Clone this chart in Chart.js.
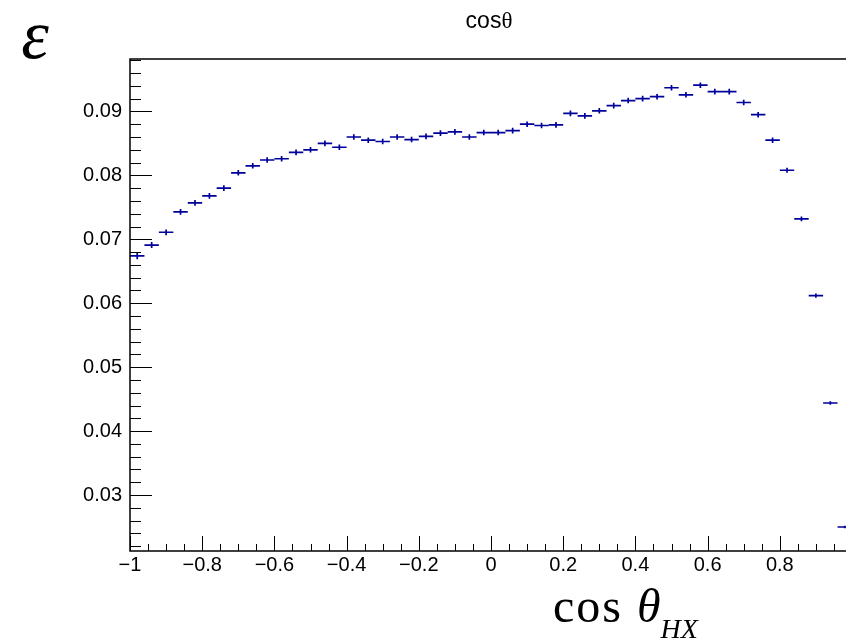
<!DOCTYPE html>
<html>
<head>
<meta charset="utf-8">
<script src="https://cdn.jsdelivr.net/npm/chart.js@4.4.1/dist/chart.umd.min.js"></script>
<style>
  html, body { margin: 0; padding: 0; background: #fff; overflow: hidden; }
  #wrap { width: 860px; height: 640px; }
</style>
</head>
<body>
<div id="wrap"><canvas id="eff-chart" width="860" height="640"></canvas></div>
<script>
// ---- efficiency vs cos(theta_HX), 50 bins of 0.04 ----
const binCenters = [
    -0.98, -0.94, -0.90, -0.86, -0.82, -0.78, -0.74, -0.70, -0.66, -0.62,
    -0.58, -0.54, -0.50, -0.46, -0.42, -0.38, -0.34, -0.30, -0.26, -0.22,
    -0.18, -0.14, -0.10, -0.06, -0.02, 0.02, 0.06, 0.10, 0.14, 0.18,
    0.22, 0.26, 0.30, 0.34, 0.38, 0.42, 0.46, 0.50, 0.54, 0.58,
    0.62, 0.66, 0.70, 0.74, 0.78, 0.82, 0.86, 0.90, 0.94, 0.98
];
const binHalfWidth = 0.02;

const effValues = [
    0.0674, 0.0691, 0.0711, 0.0743, 0.0757, 0.0768, 0.0780, 0.0804, 0.0815, 0.0824,
    0.0826, 0.0836, 0.0840, 0.0850, 0.0844, 0.0860, 0.0855, 0.0853, 0.0860, 0.0856,
    0.0861, 0.0866, 0.0868, 0.0860, 0.0867, 0.0867, 0.0870, 0.0880, 0.0878, 0.0879,
    0.0897, 0.0893, 0.0901, 0.0909, 0.0917, 0.0920, 0.0923, 0.0937, 0.0926, 0.0941,
    0.0931, 0.0931, 0.0914, 0.0895, 0.0855, 0.0808, 0.0732, 0.0612, 0.0444, 0.0250
];

const effErrors = [
    0.00052, 0.00046, 0.00045, 0.00045, 0.00044, 0.00044, 0.00044, 0.00044, 0.00044, 0.00044,
    0.00044, 0.00044, 0.00044, 0.00044, 0.00044, 0.00044, 0.00044, 0.00044, 0.00044, 0.00044,
    0.00044, 0.00044, 0.00044, 0.00044, 0.00044, 0.00044, 0.00044, 0.00044, 0.00044, 0.00044,
    0.00044, 0.00044, 0.00044, 0.00044, 0.00044, 0.00044, 0.00044, 0.00044, 0.00044, 0.00044,
    0.00044, 0.00044, 0.00044, 0.00043, 0.00042, 0.00040, 0.00038, 0.00034, 0.00028, 0.00020
];

// major tick labels
const xTickValues = [-1, -0.8, -0.6, -0.4, -0.2, 0, 0.2, 0.4, 0.6, 0.8];
const yTickValues = [0.03, 0.04, 0.05, 0.06, 0.07, 0.08, 0.09];

const xRange = [-1, 1];
const yRange = [0.02125, 0.0982];

const markerColor = '#00009a';
const labelFont = '"Liberation Sans", Arial, sans-serif';
const mathFont = '"Liberation Serif", "Times New Roman", serif';

// ROOT-like frame: inside ticks, error crosses, titles
const rootStyle = {
    id: 'rootStyle',
    afterDatasetsDraw(chart) {
        const ctx = chart.ctx;
        const xs = chart.scales.x;
        const ys = chart.scales.y;
        const area = chart.chartArea;

        ctx.save();

        // error crosses for each bin
        ctx.strokeStyle = markerColor;
        ctx.lineWidth = 1.7;
        binCenters.forEach((c, i) => {
            const y = ys.getPixelForValue(effValues[i]);
            const xc = xs.getPixelForValue(c);
            ctx.beginPath();
            ctx.moveTo(xs.getPixelForValue(c - binHalfWidth), y);
            ctx.lineTo(xs.getPixelForValue(c + binHalfWidth), y);
            ctx.moveTo(xc, ys.getPixelForValue(effValues[i] - effErrors[i]));
            ctx.lineTo(xc, ys.getPixelForValue(effValues[i] + effErrors[i]));
            ctx.stroke();
        });

        // frame
        ctx.strokeStyle = '#000';
        ctx.lineWidth = 1.5;
        ctx.strokeRect(area.left, area.top, area.right - area.left, area.bottom - area.top);

        // y ticks (0.002 minor, 0.01 major)
        ctx.lineWidth = 1;
        ctx.beginPath();
        for (let k = 11; k <= 49; k++) {
            const y = Math.round(ys.getPixelForValue(k / 500)) + 0.5;
            const len = (k % 5 === 0) ? 22 : 11;
            ctx.moveTo(area.left, y);
            ctx.lineTo(area.left + len, y);
        }
        // x ticks (0.05 minor, 0.2 major)
        for (let k = -20; k <= 20; k++) {
            const x = Math.round(xs.getPixelForValue(k / 20)) + 0.5;
            const len = (k % 4 === 0) ? 15 : 7;
            ctx.moveTo(x, area.bottom);
            ctx.lineTo(x, area.bottom - len);
        }
        ctx.stroke();

        // top title
        ctx.fillStyle = '#000';
        ctx.textBaseline = 'alphabetic';
        ctx.textAlign = 'left';
        ctx.font = '23px ' + labelFont;
        const tCos = ctx.measureText('cos').width;
        ctx.font = '23px ' + mathFont;
        const tTh = ctx.measureText('θ').width;
        const tx = 489 - (tCos + tTh) / 2;
        ctx.font = '23px ' + labelFont;
        ctx.fillText('cos', tx, 28);
        ctx.font = '23px ' + mathFont;
        ctx.fillText('θ', tx + tCos, 28);

        // y title
        ctx.font = 'italic 70px ' + mathFont;
        ctx.textAlign = 'center';
        ctx.fillText('ε', 35, 58);

        // x title
        ctx.textAlign = 'left';
        ctx.letterSpacing = '2px';
        let x = 553;
        ctx.font = '48px ' + mathFont;
        ctx.fillText('cos', x, 622);
        x += ctx.measureText('cos').width + 14;
        ctx.letterSpacing = '0px';
        ctx.font = 'italic 48px ' + mathFont;
        ctx.fillText('θ', x, 622);
        x += ctx.measureText('θ').width;
        ctx.font = 'italic 28px ' + mathFont;
        ctx.fillText('HX', x, 638);

        ctx.restore();
    }
};

function fmtTick(v, digits) {
    const s = Number(v.toFixed(digits)).toString();
    return s.replace('-', '\u2212');
}

let effChart = new Chart(document.getElementById('eff-chart'), {
    type: 'scatter',
    data: {
        datasets: [{
            label: 'efficiency',
            data: binCenters.map((c, i) => ({ x: c, y: effValues[i] })),
            pointRadius: 0,
            showLine: false
        }]
    },
    options: {
        responsive: false,
        animation: false,
        layout: {
            padding: { top: 59, right: 8, left: 0, bottom: 0 }
        },
        plugins: {
            legend: { display: false },
            title: { display: false },
            tooltip: { enabled: false }
        },
        scales: {
            x: {
                type: 'linear',
                min: xRange[0],
                max: xRange[1],
                grid: { display: false },
                border: { display: false },
                afterFit: s => { s.height = 89; },
                afterBuildTicks: s => { s.ticks = xTickValues.map(v => ({ value: v })); },
                ticks: {
                    color: '#000',
                    padding: -6,
                    maxRotation: 0,
                    autoSkip: false,
                    font: { family: labelFont, size: 20 },
                    callback: v => fmtTick(v, 1)
                }
            },
            y: {
                type: 'linear',
                min: yRange[0],
                max: yRange[1],
                grid: { display: false },
                border: { display: false },
                afterFit: s => { s.width = 130; },
                afterBuildTicks: s => { s.ticks = yTickValues.map(v => ({ value: v })); },
                ticks: {
                    color: '#000',
                    padding: 0,
                    autoSkip: false,
                    font: { family: labelFont, size: 20 },
                    callback: v => fmtTick(v, 2)
                }
            }
        }
    },
    plugins: [rootStyle]
});
</script>
</body>
</html>
